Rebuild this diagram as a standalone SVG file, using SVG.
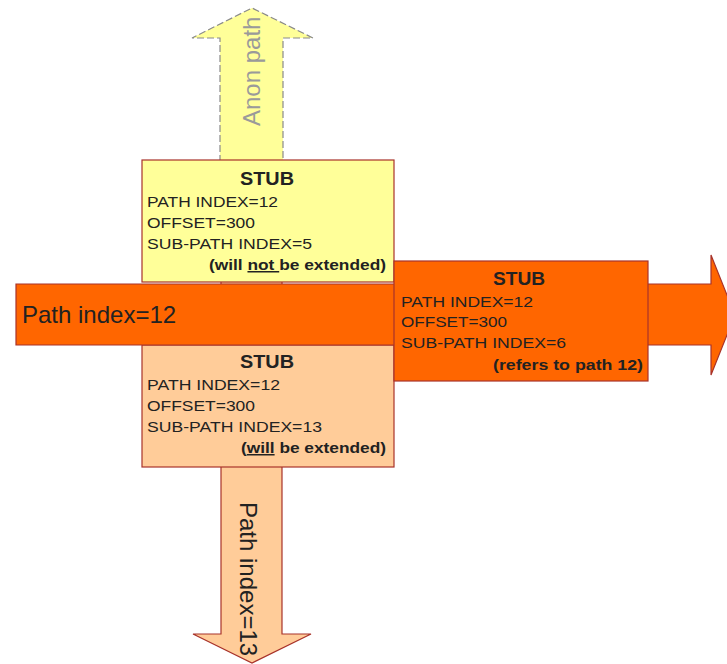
<svg xmlns="http://www.w3.org/2000/svg" width="727" height="664" viewBox="0 0 727 664">
<style>
text{font-family:"Liberation Sans",Arial,sans-serif;fill:#222}
.big{font-size:24px}
.t{font-size:15px}
.h{font-size:18px;font-weight:bold}
.b{font-size:15px;font-weight:bold}
.box{stroke:#a8322a;stroke-width:1.2}
.u{text-decoration:underline}
</style>
<rect width="727" height="664" fill="#ffffff"/>
<g id="connectors">
<g id="anon-arrow">
<polygon points="220,162 220,38 192,38 252,8 313,38 283,38 283,162" fill="#ffff99" stroke="#8a8a8a" stroke-width="1.2" stroke-dasharray="7,3"/>
<text class="big" transform="translate(260,126) rotate(-90)" style="fill:#9a9a9a">Anon path</text>
</g>
<g id="down-arrow">
<polygon points="221,280 282,280 282,634 311,634 252,663 193,634 221,634" fill="#ffcc99" class="box"/>
</g>
</g>
<g id="stub-yellow">
<rect x="142" y="160" width="252" height="122" fill="#ffff99" class="box"/>
<text class="h" x="267" y="185" text-anchor="middle" textLength="54" lengthAdjust="spacingAndGlyphs">STUB</text>
<text class="t" x="147" y="207" textLength="131" lengthAdjust="spacingAndGlyphs">PATH INDEX=12</text>
<text class="t" x="147" y="228" textLength="108" lengthAdjust="spacingAndGlyphs">OFFSET=300</text>
<text class="t" x="147" y="249" textLength="165" lengthAdjust="spacingAndGlyphs">SUB-PATH INDEX=5</text>
<text class="b" x="209" y="270" textLength="177" lengthAdjust="spacingAndGlyphs">(will <tspan class="u">not </tspan>be extended)</text>
</g>
<g id="stub-peach">
<rect x="142" y="345" width="252" height="122" fill="#ffcc99" class="box"/>
<text class="h" x="267" y="368" text-anchor="middle" textLength="54" lengthAdjust="spacingAndGlyphs">STUB</text>
<text class="t" x="147" y="390" textLength="133" lengthAdjust="spacingAndGlyphs">PATH INDEX=12</text>
<text class="t" x="147" y="411" textLength="108" lengthAdjust="spacingAndGlyphs">OFFSET=300</text>
<text class="t" x="147" y="432" textLength="175" lengthAdjust="spacingAndGlyphs">SUB-PATH INDEX=13</text>
<text class="b" x="241" y="453" textLength="145" lengthAdjust="spacingAndGlyphs">(<tspan class="u">will</tspan> be extended)</text>
</g>
<g id="path12-arrow">
<polygon points="16,284 711,284 711,255 735,315 711,375 711,345 16,345" fill="#ff6600" class="box"/>
<text class="big" x="22" y="323">Path index=12</text>
</g>
<g id="path13-label">
<text class="big" transform="translate(240,502) rotate(90)">Path index=13</text>
</g>
<g id="stub-orange">
<rect x="394" y="261" width="254" height="120" fill="#ff6600" class="box"/>
<text class="h" x="519" y="285" text-anchor="middle" textLength="52" lengthAdjust="spacingAndGlyphs">STUB</text>
<text class="t" x="401" y="307" textLength="132" lengthAdjust="spacingAndGlyphs">PATH INDEX=12</text>
<text class="t" x="401" y="327" textLength="106" lengthAdjust="spacingAndGlyphs">OFFSET=300</text>
<text class="t" x="401" y="348" textLength="165" lengthAdjust="spacingAndGlyphs">SUB-PATH INDEX=6</text>
<text class="b" x="493" y="370" textLength="150" lengthAdjust="spacingAndGlyphs">(refers to path 12)</text>
</g>
</svg>
